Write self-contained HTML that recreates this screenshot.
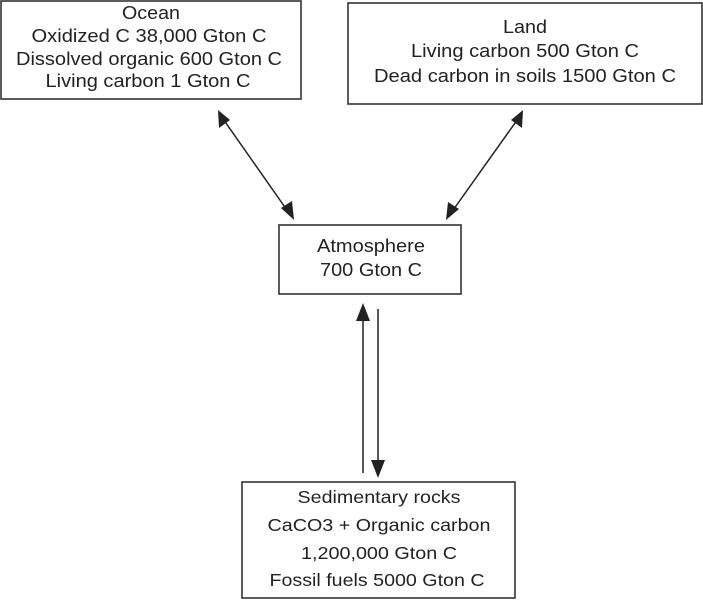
<!DOCTYPE html>
<html><head><meta charset="utf-8"><style>
html,body{margin:0;padding:0;background:#fff;}
svg{display:block;}
text{font-family:"Liberation Sans",sans-serif;fill:#222;text-anchor:middle;}
</style></head><body>
<svg width="703" height="600" viewBox="0 0 703 600" xmlns="http://www.w3.org/2000/svg">
<g fill="none" stroke="#333" stroke-width="1.6">
<rect x="1" y="1" width="300" height="98"/>
<rect x="348" y="3" width="354" height="101"/>
<rect x="279" y="225" width="182" height="69"/>
<rect x="242" y="482" width="273" height="116"/>
</g>
<g stroke="#222" stroke-width="1.5">
<line x1="221" y1="116" x2="289" y2="213"/>
<line x1="520" y1="116" x2="451" y2="213"/>
<line x1="363" y1="473" x2="363" y2="318"/>
<line x1="378" y1="309" x2="378" y2="464"/>
</g>
<g fill="#222">
<polygon points="218,110 219,128 230,120"/>
<polygon points="294,220 281,208 292,201"/>
<polygon points="523,110 511,120 522,128"/>
<polygon points="446,220 448,202 459,209"/>
<polygon points="363,303 356,321 370,321"/>
<polygon points="378,478 371,460 385,460"/>
</g>
<g font-size="18.5">
<text x="151" y="19" textLength="58" lengthAdjust="spacingAndGlyphs">Ocean</text>
<text x="149" y="42" textLength="235" lengthAdjust="spacingAndGlyphs">Oxidized C 38,000 Gton C</text>
<text x="149" y="65" textLength="266" lengthAdjust="spacingAndGlyphs">Dissolved organic 600 Gton C</text>
<text x="148" y="87" textLength="205" lengthAdjust="spacingAndGlyphs">Living carbon 1 Gton C</text>
<text x="525" y="33" textLength="44" lengthAdjust="spacingAndGlyphs">Land</text>
<text x="525" y="57" textLength="228" lengthAdjust="spacingAndGlyphs">Living carbon 500 Gton C</text>
<text x="525" y="82" textLength="302" lengthAdjust="spacingAndGlyphs">Dead carbon in soils 1500 Gton C</text>
<text x="371" y="252" textLength="108" lengthAdjust="spacingAndGlyphs">Atmosphere</text>
<text x="371" y="276" textLength="102" lengthAdjust="spacingAndGlyphs">700 Gton C</text>
</g>
<g font-size="17.5">
<text x="379" y="503" textLength="163" lengthAdjust="spacingAndGlyphs">Sedimentary rocks</text>
<text x="379" y="531" textLength="223" lengthAdjust="spacingAndGlyphs">CaCO3 + Organic carbon</text>
<text x="379" y="559" textLength="156" lengthAdjust="spacingAndGlyphs">1,200,000 Gton C</text>
<text x="377" y="586" textLength="215" lengthAdjust="spacingAndGlyphs">Fossil fuels 5000 Gton C</text>
</g>
</svg>
</body></html>
